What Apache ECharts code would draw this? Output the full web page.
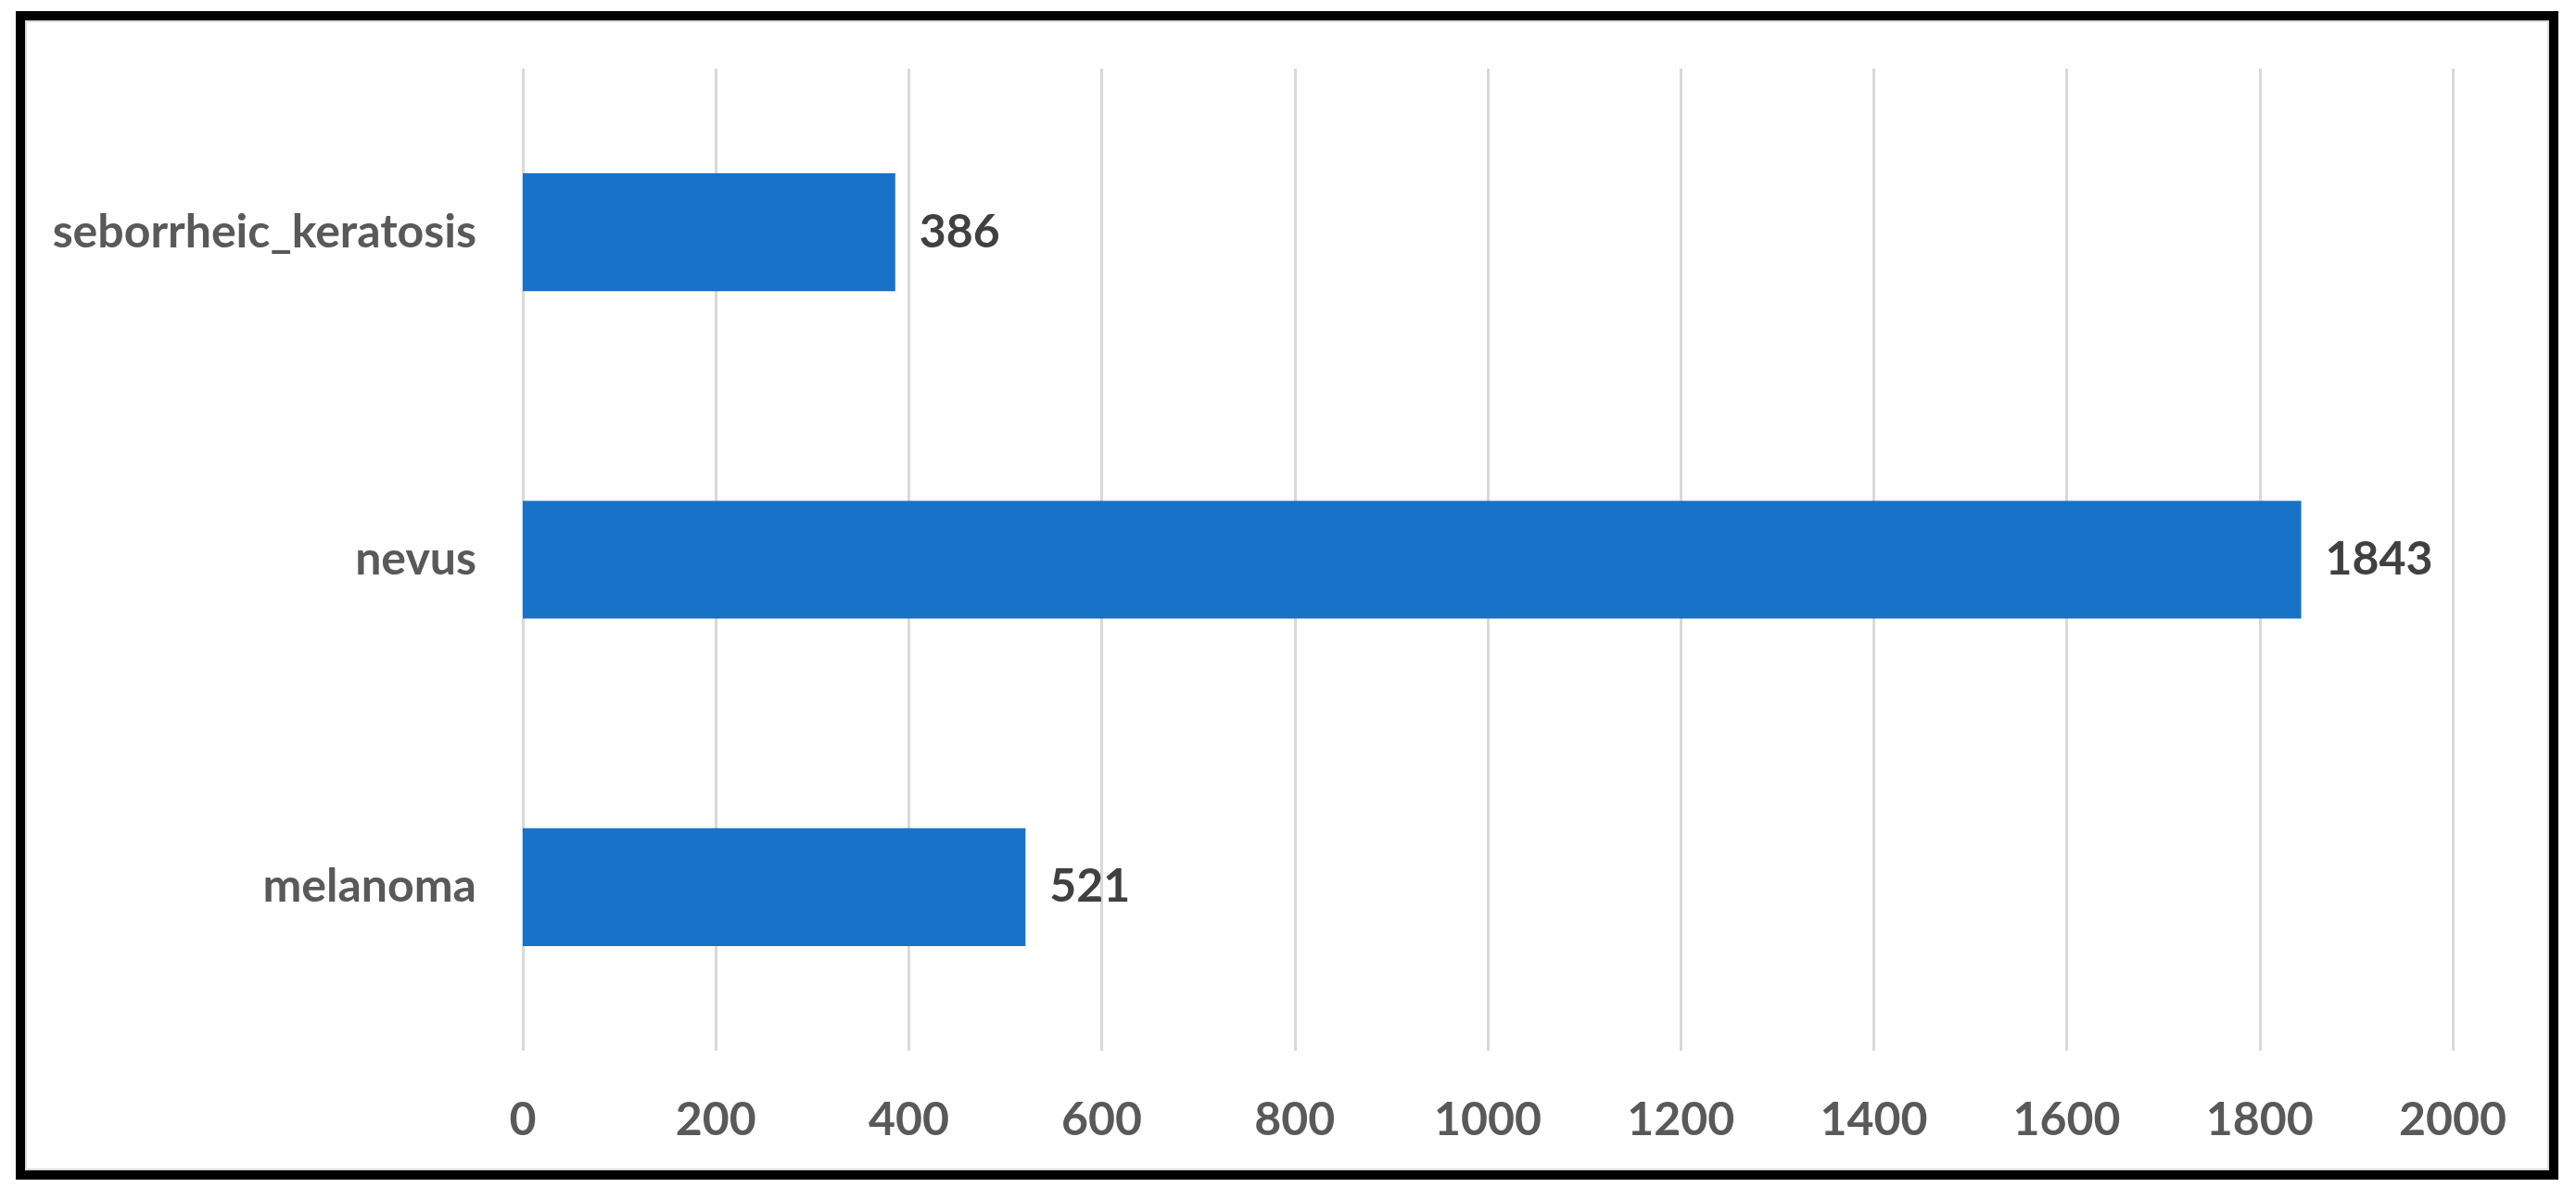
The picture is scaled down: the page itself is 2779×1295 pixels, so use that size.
<!DOCTYPE html>
<html>
<head>
<meta charset="utf-8">
<script src="https://cdn.jsdelivr.net/npm/echarts@6/dist/echarts.min.js"></script>
<style>
  html, body { margin: 0; padding: 0; background: #fff; }
  #chart { width: 2779px; height: 1295px; }
</style>
</head>
<body>
<div id="chart"></div>
<script>
// data, bottom to top as in the picture
var categories = ['melanoma', 'nevus', 'seborrheic_keratosis'];
var counts = [521, 1843, 386];
var xTicks = [0, 200, 400, 600, 800, 1000, 1200, 1400, 1600, 1800, 2000];

var chart = echarts.init(document.getElementById('chart'));
var option = {
    backgroundColor: '#fff',
    animation: false,
    graphic: [
        {
            type: 'rect',
            shape: { x: 22, y: 17, width: 2733, height: 1251 },
            style: { fill: 'none', stroke: '#000', lineWidth: 10 }
        },
        {
            type: 'rect',
            shape: { x: 28, y: 23, width: 2721, height: 1239 },
            style: { fill: 'none', stroke: '#dcdcdc', lineWidth: 2 }
        }
    ],
    grid: {
        left: 564,
        right: 133,
        top: 74,
        bottom: 161
    },
    xAxis: {
        type: 'value',
        min: xTicks[0],
        max: xTicks[xTicks.length - 1],
        interval: 200,
        axisLine: { show: false },
        axisTick: { show: false },
        splitLine: { lineStyle: { color: '#d9d9d9', width: 3 } },
        axisLabel: {
            margin: 50,
            color: '#595959',
            fontFamily: 'Lato',
            fontWeight: 'bold',
            fontSize: 50,
            formatter: function (v) { return String(v); }
        }
    },
    yAxis: {
        type: 'category',
        data: categories,
        axisLine: { show: false },
        axisTick: { show: false },
        axisLabel: {
            margin: 50,
            color: '#595959',
            fontFamily: 'Lato',
            fontWeight: 'bold',
            fontSize: 50
        }
    },
    series: [
        {
            type: 'bar',
            data: counts,
            barCategoryGap: '64%',
            itemStyle: { color: '#1772c8' },
            label: {
                show: true,
                position: 'right',
                distance: 26,
                color: '#404040',
                fontFamily: 'Lato',
                fontWeight: 'bold',
                fontSize: 50
            }
        }
    ]
};
chart.setOption(option);
</script>
</body>
</html>
